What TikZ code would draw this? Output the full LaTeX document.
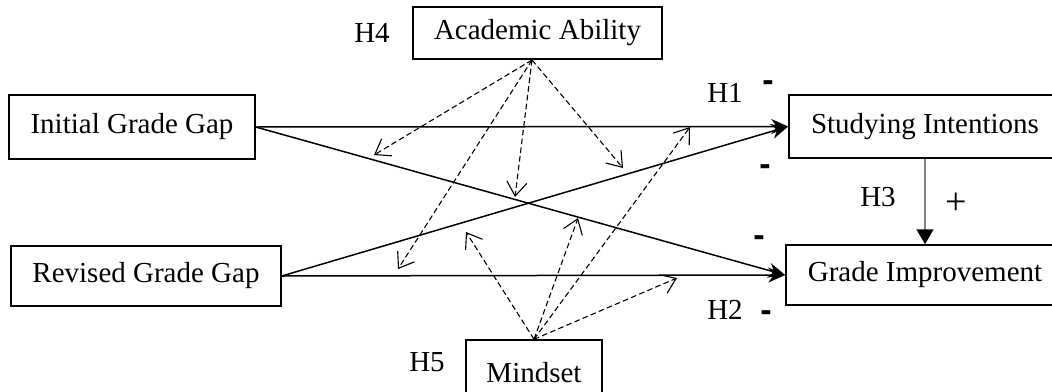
\documentclass[tikz,border=0pt]{standalone}
\usepackage{fontspec}
\setmainfont{Liberation Serif}
\newfontfamily\signfont{Liberation Sans}
\usetikzlibrary{positioning,arrows.meta,calc}

\begin{document}
\begin{tikzpicture}[x=0.5pt,y=-0.5pt,
    var/.style={draw,line width=0.75pt,inner sep=0pt,font=\fontsize{14.5}{17}\selectfont},
    hyp/.style={inner sep=0pt,font=\fontsize{14.5}{17}\selectfont},
    sgn/.style={inner sep=0pt,font=\fontsize{17}{20}\signfont\bfseries},
    path/.style={line width=0.75pt,-{Stealth[length=8.5pt,width=7.5pt]}},
    moder/.style={line width=0.55pt,dash pattern=on 2.8pt off 1.6pt,-{Straight Barb[length=7pt,width=10pt]}}]

      \useasboundingbox (0,0) rectangle (1052,391);

      \node[var,minimum width=123pt,minimum height=32pt] (igg) at (132,127) {Initial Grade Gap};
      \node[var,minimum width=135pt,minimum height=30pt] (rgg) at (146,276) {Revised Grade Gap};
      \node[var,minimum width=136pt,minimum height=31.5pt] (si) at (925,126.5) {Studying Intentions};
      \node[var,minimum width=139pt,minimum height=30pt] (gi) at (925,275) {Grade Improvement};
      \node[var,minimum width=124.5pt,minimum height=26pt] (aa) at (537.5,33) {Academic Ability};
      \node[var,minimum width=68pt,minimum height=33pt] (ms) at (534,373) {Mindset};

      \node[hyp] (h1) at (725,93) {H1};
      \node[hyp] (h2) at (725,310) {H2};
      \node[hyp] (h3) at (878,197) {H3};
      \node[hyp] (h4) at (372,33) {H4};
      \node[hyp] (h5) at (427,362) {H5};

      \node[sgn] (s1) at (768,86) {-};
      \node[sgn] (s2) at (765,170) {-};
      \node[sgn] (s3) at (759,241) {-};
      \node[sgn] (s4) at (766,316) {-};
      \node[hyp,font=\fontsize{19}{22}\selectfont] (s5) at (956,204) {+};

      \draw[path] (igg.east) -- (si.west);
      \draw[path] (igg.east) -- (gi.west);
      \draw[path] (rgg.east) -- (si.west);
      \draw[path] (rgg.east) -- (gi.west);
      \draw[gray,line width=0.75pt,-{Triangle[length=7.5pt,width=8.5pt,black]}] (si.south) -- (gi.north);

      \coordinate (aa-o) at (532,60);
      \coordinate (a1) at (374,155);
      \coordinate (a2) at (398,269);
      \coordinate (a3) at (515,197);
      \coordinate (a4) at (623,168);
      \draw[moder] (aa-o) -- (a1);
      \draw[moder] (aa-o) -- (a2);
      \draw[moder] (aa-o) -- (a3);
      \draw[moder] (aa-o) -- (a4);

      \coordinate (m1) at (466,232);
      \coordinate (m2) at (578,218);
      \coordinate (m3) at (690,127);
      \coordinate (m4) at (677,278);
      \draw[moder] (ms.north) -- (m1);
      \draw[moder] (ms.north) -- (m2);
      \draw[moder] (ms.north) -- (m3);
      \draw[moder] (ms.north) -- (m4);
    \end{tikzpicture}
\end{document}
